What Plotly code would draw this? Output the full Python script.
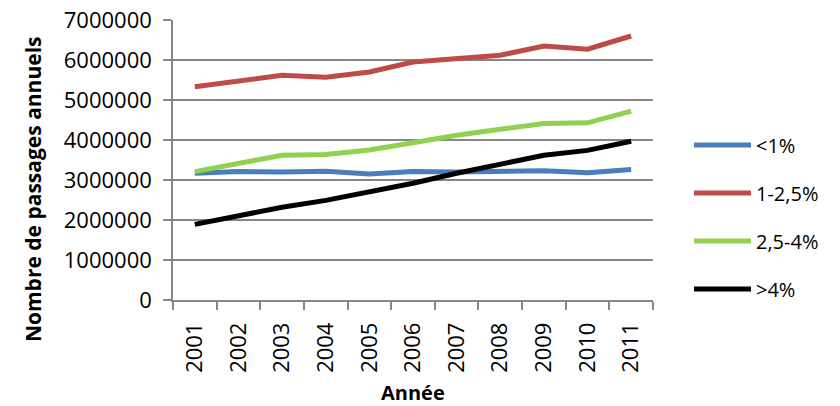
import plotly.graph_objects as go

# Annual passages by slope class, 2001-2011
years = ["2001", "2002", "2003", "2004", "2005", "2006", "2007", "2008", "2009", "2010", "2011"]
series_names = ["<1%", "1-2,5%", "2,5-4%", ">4%"]
lt1 = [3170000, 3210000, 3200000, 3220000, 3150000, 3210000, 3200000, 3210000, 3230000, 3180000, 3260000]
s1_25 = [5330000, 5480000, 5620000, 5570000, 5700000, 5950000, 6020000, 6120000, 6350000, 6270000, 6600000]
s25_4 = [3210000, 3430000, 3620000, 3640000, 3750000, 3930000, 4120000, 4270000, 4410000, 4430000, 4720000]
gt4 = [1890000, 2110000, 2320000, 2490000, 2690000, 2920000, 3170000, 3410000, 3620000, 3740000, 3970000]
colors = ["#4A7EBB", "#BE4B48", "#92D050", "#000000"]
y_ticks = [0, 1000000, 2000000, 3000000, 4000000, 5000000, 6000000, 7000000]

font_family = "Open Sans, sans-serif"

fig = go.Figure()
for i, (name, vals, col) in enumerate(zip(series_names, [lt1, s1_25, s25_4, gt4], colors)):
    fig.add_trace(go.Scatter(
        x=years, y=vals, name=name, mode="lines",
        line=dict(color=col, width=5),
        legendgroup=f"g{i}",
    ))

fig.update_layout(
    width=840, height=406,
    margin=dict(l=173, r=187, t=20, b=106),
    paper_bgcolor="white", plot_bgcolor="white",
    font=dict(family=font_family, size=20, color="#000000"),
    legend=dict(
        x=1.075, xanchor="left", y=0.296, yanchor="middle",
        traceorder="grouped", tracegroupgap=19,
        font=dict(size=20), itemwidth=57,
    ),
    showlegend=True,
    annotations=[
        dict(
            text="<b>Nombre de passages annuels</b>",
            xref="paper", yref="paper", x=-0.2917, y=0.396,
            xanchor="center", yanchor="middle", textangle=-90,
            showarrow=False, font=dict(size=21),
        ),
        dict(
            text="<b>Année</b>",
            xref="paper", yref="paper", x=0.5, y=-0.33,
            xanchor="center", yanchor="middle",
            showarrow=False, font=dict(size=20),
        ),
    ],
)

fig.update_xaxes(
    type="category", tickson="boundaries", range=[-0.5, len(years) - 0.5],
    ticks="outside", ticklen=8, tickcolor="#868686", tickwidth=1.5,
    showline=True, linecolor="#868686", linewidth=1.5,
    showgrid=False, tickangle=-90, ticklabelstandoff=12,
    tickfont=dict(size=22), automargin=False,
)
fig.update_yaxes(
    range=[0, 7000000], tickvals=y_ticks, ticktext=[str(v) for v in y_ticks],
    ticks="outside", ticklen=8, tickcolor="#868686", tickwidth=1.5,
    showline=True, linecolor="#868686", linewidth=1.5,
    showgrid=True, gridcolor="#868686", gridwidth=1.5,
    zeroline=False, ticklabelstandoff=7,
    tickfont=dict(size=22), automargin=False,
)

fig.write_html("out.html")
